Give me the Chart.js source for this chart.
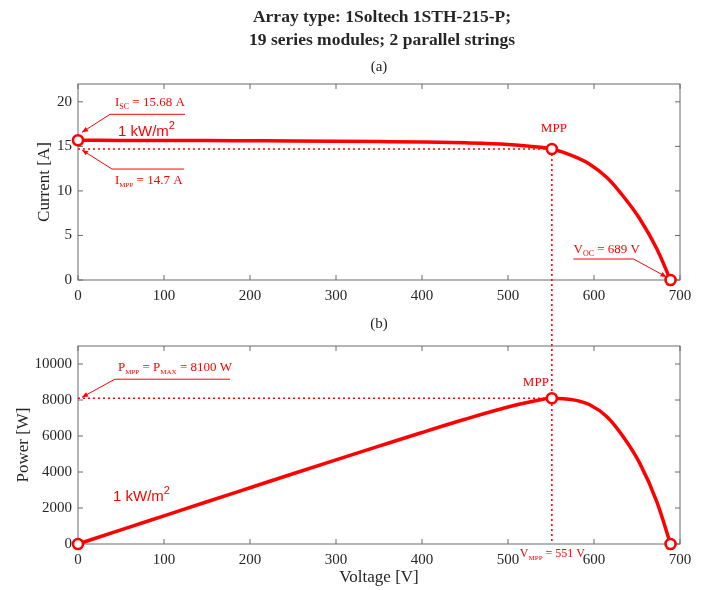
<!DOCTYPE html>
<html>
<head>
<meta charset="utf-8">
<script src="https://cdn.jsdelivr.net/npm/chart.js@4.4.1/dist/chart.umd.min.js"></script>
<style>
  body { margin: 0; background: #fff; }
  #wrap { position: relative; width: 710px; height: 590px; }
  canvas { position: absolute; left: 0; top: 0; }
</style>
</head>
<body>
<div id="wrap">
  <canvas id="ivChart" width="710" height="590"></canvas>
  <canvas id="pvChart" width="710" height="590"></canvas>
</div>
<script>
// --- Data ---
const voltage = [0, 50, 100, 150, 200, 250, 300, 350, 400, 450, 500, 525, 551, 576, 595, 615, 634, 653, 673, 689];
const current = [15.68, 15.67, 15.66, 15.65, 15.63, 15.61, 15.58, 15.54, 15.49, 15.40, 15.22, 15.02, 14.70, 13.90, 13.00, 11.50, 9.40, 6.90, 3.50, 0];
const power = [0, 784, 1566, 2348, 3126, 3903, 4674, 5439, 6196, 6930, 7610, 7886, 8100, 8006, 7735, 7073, 5960, 4506, 2356, 0];

const markerV = [0, 551, 689];
const markerI = [15.68, 14.7, 0];
const markerP = [0, 8100, 0];

const xTicks = [0, 100, 200, 300, 400, 500, 600, 700];
const iTicks = [0, 5, 10, 15, 20];
const pTicks = [0, 2000, 4000, 6000, 8000, 10000];

const vMpp = 551, iMpp = 14.7, pMpp = 8100, iSc = 15.68, vOc = 689;

const RED = '#ff0000';
const INK = '#262626';
const SERIF = '"Liberation Serif", "Times New Roman", serif';
const SANS = '"Liberation Sans", Arial, sans-serif';

// --- Drawing helpers ---
function dotted(ctx, x1, y1, x2, y2) {
    ctx.save();
    ctx.strokeStyle = RED;
    ctx.lineWidth = 1.6;
    ctx.setLineDash([2, 3]);
    ctx.beginPath();
    ctx.moveTo(x1, y1);
    ctx.lineTo(x2, y2);
    ctx.stroke();
    ctx.restore();
}

function leader(ctx, ux1, ux2, uy, fromX, tipX, tipY) {
    ctx.save();
    ctx.strokeStyle = RED;
    ctx.fillStyle = RED;
    ctx.lineWidth = 1;
    ctx.beginPath();
    ctx.moveTo(ux1, uy);
    ctx.lineTo(ux2, uy);
    ctx.moveTo(fromX, uy);
    ctx.lineTo(tipX, tipY);
    ctx.stroke();
    // arrow head
    const ang = Math.atan2(tipY - uy, tipX - fromX);
    const len = 6, hw = 2.5;
    ctx.beginPath();
    ctx.moveTo(tipX, tipY);
    ctx.lineTo(tipX - len * Math.cos(ang) + hw * Math.sin(ang), tipY - len * Math.sin(ang) - hw * Math.cos(ang));
    ctx.lineTo(tipX - len * Math.cos(ang) - hw * Math.sin(ang), tipY - len * Math.sin(ang) + hw * Math.cos(ang));
    ctx.closePath();
    ctx.fill();
    ctx.restore();
}

// parts: [text, size, dy, family]
function richText(ctx, parts, x, y, align) {
    ctx.save();
    ctx.fillStyle = RED;
    ctx.textBaseline = 'alphabetic';
    ctx.textAlign = 'left';
    let total = 0;
    parts.forEach(p => {
        ctx.font = p[1] + 'px ' + (p[3] || SERIF);
        total += ctx.measureText(p[0]).width;
    });
    let cx = align === 'center' ? x - total / 2 : x;
    parts.forEach(p => {
        ctx.font = p[1] + 'px ' + (p[3] || SERIF);
        ctx.fillText(p[0], cx, y + (p[2] || 0));
        cx += ctx.measureText(p[0]).width;
    });
    ctx.restore();
}

function drawFrame(chart) {
    const { ctx, chartArea: a, scales: { x, y } } = chart;
    ctx.save();
    ctx.strokeStyle = '#6a6a6a';
    ctx.lineWidth = 1;
    ctx.strokeRect(a.left, a.top, a.right - a.left, a.bottom - a.top);
    ctx.beginPath();
    x.ticks.forEach(t => {
        const px = x.getPixelForValue(t.value);
        ctx.moveTo(px, a.bottom); ctx.lineTo(px, a.bottom - 5);
        ctx.moveTo(px, a.top); ctx.lineTo(px, a.top + 5);
    });
    y.ticks.forEach(t => {
        const py = y.getPixelForValue(t.value);
        ctx.moveTo(a.left, py); ctx.lineTo(a.left + 5, py);
        ctx.moveTo(a.right, py); ctx.lineTo(a.right - 5, py);
    });
    ctx.stroke();
    ctx.restore();
}

function axisTitle(ctx, text, x, y, rotate) {
    ctx.save();
    ctx.fillStyle = INK;
    ctx.font = '17px ' + SERIF;
    ctx.textAlign = 'center';
    ctx.textBaseline = 'middle';
    ctx.translate(x, y);
    if (rotate) ctx.rotate(-Math.PI / 2);
    ctx.fillText(text, 0, 0);
    ctx.restore();
}

function plainText(ctx, text, x, y, font) {
    ctx.save();
    ctx.fillStyle = INK;
    ctx.font = font;
    ctx.textAlign = 'center';
    ctx.textBaseline = 'middle';
    ctx.fillText(text, x, y);
    ctx.restore();
}

function buildOptions(yMax, yTicks, padTop, padBottom) {
    const tickFont = { family: SERIF, size: 15 };
    return {
        responsive: false,
        devicePixelRatio: 1,
        animation: false,
        events: [],
        layout: { padding: { left: 18, right: 30, top: padTop, bottom: padBottom } },
        plugins: { legend: { display: false }, tooltip: { enabled: false } },
        scales: {
            x: {
                type: 'linear', min: 0, max: 700,
                afterBuildTicks: s => { s.ticks = xTicks.map(v => ({ value: v })); },
                afterFit: s => { s.height = 30; },
                grid: { display: false, drawTicks: false },
                border: { display: false },
                ticks: { padding: 7, color: INK, font: tickFont, maxRotation: 0, autoSkip: false, callback: v => String(v) }
            },
            y: {
                type: 'linear', min: 0, max: yMax,
                afterBuildTicks: s => { s.ticks = yTicks.map(v => ({ value: v })); },
                afterFit: s => { s.width = 60; },
                grid: { display: false, drawTicks: false },
                border: { display: false },
                ticks: { padding: 6, color: INK, font: tickFont, autoSkip: false, callback: v => String(v) }
            }
        }
    };
}

function buildDatasets(yCurve, yMarks) {
    return [
        {
            data: markerV.map((v, i) => ({ x: v, y: yMarks[i] })),
            showLine: false,
            pointRadius: 5,
            pointBorderWidth: 2.6,
            pointBorderColor: RED,
            pointBackgroundColor: '#fff',
            clip: false
        },
        {
            data: voltage.map((v, i) => ({ x: v, y: yCurve[i] })),
            borderColor: RED,
            borderWidth: 3.5,
            pointRadius: 0,
            cubicInterpolationMode: 'monotone',
            fill: false,
            clip: false
        }
    ];
}

// --- Top: I-V curve ---
const ivChart = new Chart(document.getElementById('ivChart'), {
    type: 'line',
    data: { datasets: buildDatasets(current, markerI) },
    options: buildOptions(22, iTicks, 84, 280),
    plugins: [{
        id: 'ivDecor',
        beforeDatasetsDraw(chart) {
            const { ctx, scales: { x, y } } = chart;
            drawFrame(chart);
            dotted(ctx, x.getPixelForValue(0), y.getPixelForValue(iMpp), x.getPixelForValue(vMpp) - 5, y.getPixelForValue(iMpp));
        },
        afterDraw(chart) {
            const { ctx, chartArea: a, scales: { x, y } } = chart;
            const cx = (a.left + a.right) / 2;
            plainText(ctx, 'Array type: 1Soltech 1STH-215-P;', cx + 3, 17, 'bold 17.5px ' + SERIF);
            plainText(ctx, '19 series modules; 2 parallel strings', cx + 3, 40, 'bold 17.5px ' + SERIF);
            plainText(ctx, '(a)', cx, 67, '15px ' + SERIF);
            plainText(ctx, '(b)', cx, 324, '15px ' + SERIF);
            axisTitle(ctx, 'Current [A]', 45, (a.top + a.bottom) / 2, true);

            // Isc
            const sx = x.getPixelForValue(0), sy = y.getPixelForValue(iSc);
            leader(ctx, sx + 32, sx + 107, sy - 26, sx + 32, sx + 4, sy - 8);
            richText(ctx, [['I', 13], ['SC', 8, 3], [' = 15.68 A', 13]], sx + 37, sy - 34);
            // Impp
            const my = y.getPixelForValue(iMpp);
            leader(ctx, sx + 34, sx + 106, my + 20, sx + 34, sx + 4, my + 1);
            richText(ctx, [['I', 13], ['MPP', 7, 3], [' = 14.7 A', 13]], sx + 37, my + 35);
            // Voc
            const ox = x.getPixelForValue(vOc), oy = y.getPixelForValue(0);
            leader(ctx, ox - 97, ox - 37, oy - 21, ox - 37, ox - 4, oy - 3);
            richText(ctx, [['V', 13], ['OC', 8, 3], [' = 689 V', 13]], ox - 97, oy - 27);
            // MPP label
            richText(ctx, [['MPP', 13]], x.getPixelForValue(vMpp) + 2, my - 17, 'center');
            // irradiance
            richText(ctx, [['1 kW/m', 15, 0, SANS], ['2', 11, -7, SANS]], a.left + 40, a.top + 52);
        }
    }]
});

// --- Bottom: P-V curve ---
const pvChart = new Chart(document.getElementById('pvChart'), {
    type: 'line',
    data: { datasets: buildDatasets(power, markerP) },
    options: buildOptions(11000, pTicks, 346, 16),
    plugins: [{
        id: 'pvDecor',
        beforeDatasetsDraw(chart) {
            const { ctx, chartArea: a, scales: { x, y } } = chart;
            drawFrame(chart);
            const mx = x.getPixelForValue(vMpp);
            const topY = ivChart.scales.y.getPixelForValue(iMpp) + 5;
            dotted(ctx, mx, topY, mx, a.bottom);
            dotted(ctx, x.getPixelForValue(0), y.getPixelForValue(pMpp), mx - 5, y.getPixelForValue(pMpp));
        },
        afterDraw(chart) {
            const { ctx, chartArea: a, scales: { x, y } } = chart;
            axisTitle(ctx, 'Power [W]', 24, (a.top + a.bottom) / 2, true);
            axisTitle(ctx, 'Voltage [V]', (a.left + a.right) / 2, 578, false);

            const sx = x.getPixelForValue(0), py = y.getPixelForValue(pMpp);
            leader(ctx, sx + 37, sx + 152, py - 19, sx + 37, sx + 4, py - 1);
            richText(ctx, [['P', 13], ['MPP', 7, 3], [' = P', 13], ['MAX', 7, 3], [' = 8100 W', 13]], sx + 40, py - 27);

            const mx = x.getPixelForValue(vMpp);
            richText(ctx, [['MPP', 13]], mx - 16, py - 12, 'center');
            richText(ctx, [['V', 12], ['MPP', 7, 3], [' = 551 V', 12]], mx - 32, a.bottom + 13);
            richText(ctx, [['1 kW/m', 15, 0, SANS], ['2', 11, -7, SANS]], a.left + 35, a.top + 155);
        }
    }]
});
</script>
</body>
</html>
